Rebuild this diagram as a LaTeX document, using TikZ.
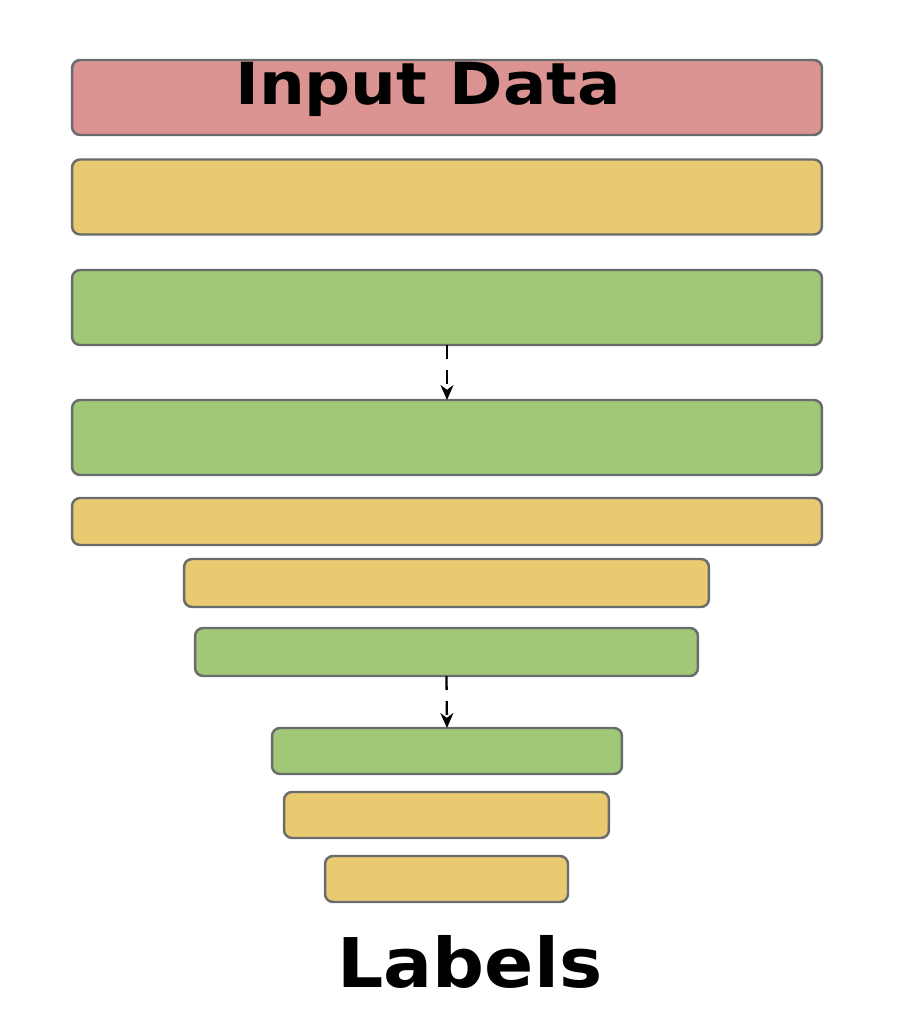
\documentclass[tikz,border=0pt]{standalone}
\usepackage{fontspec}
\usepackage{graphicx}
\setmainfont{DejaVu Sans}
\usetikzlibrary{arrows.meta}

\definecolor{boxred}{RGB}{219,148,145}
\definecolor{boxyellow}{RGB}{233,202,113}
\definecolor{boxgreen}{RGB}{161,200,118}
\definecolor{boxedge}{RGB}{105,108,108}

\tikzset{
    layer/.style={draw=boxedge, line width=1.4pt, rounded corners=0.16cm,
        inner sep=0pt, outer sep=0pt},
    flow/.style={dashed, dash pattern=on 0.28cm off 0.22cm, line width=1.3pt,
        -{Stealth[length=0.3cm, width=0.26cm]}}
}

\begin{document}
\begin{tikzpicture}[x=0.02cm, y=-0.02cm]
    \useasboundingbox (0,0) rectangle (910,1024);

    % Широкие слои
    \node[layer, fill=boxred, minimum width=15cm, minimum height=1.5cm] (in) at (447,97.5) {};
    \node[layer, fill=boxyellow, minimum width=15cm, minimum height=1.5cm] (y1) at (447,197) {};
    \node[layer, fill=boxgreen, minimum width=15cm, minimum height=1.5cm] (g1) at (447,307.5) {};
    \node[layer, fill=boxgreen, minimum width=15cm, minimum height=1.5cm] (g2) at (447,437.5) {};
    \node[layer, fill=boxyellow, minimum width=15cm, minimum height=0.94cm] (y2) at (447,521.5) {};

    % Сужающиеся слои
    \node[layer, fill=boxyellow, minimum width=10.5cm, minimum height=0.96cm] (y3) at (446.5,583) {};
    \node[layer, fill=boxgreen, minimum width=10.06cm, minimum height=0.96cm] (g3) at (446.5,652) {};
    \node[layer, fill=boxgreen, minimum width=7cm, minimum height=0.92cm] (g4) at (447,751) {};
    \node[layer, fill=boxyellow, minimum width=6.5cm, minimum height=0.92cm] (y4) at (446.5,815) {};
    \node[layer, fill=boxyellow, minimum width=4.86cm, minimum height=0.92cm] (y5) at (446.5,879) {};

    % Стрелки
    \draw[flow] (g1.south) -- (g2.north);
    \draw[flow] (g3.south) -- (g4.north);

    % Подписи
    \node[anchor=base, inner sep=0pt, font=\bfseries\fontsize{33}{38}\selectfont] (intext) at (428,105) {\scalebox{1.11}[1]{Input Data}};
    \node[anchor=base, inner sep=0pt, font=\bfseries\fontsize{39}{45}\selectfont] (labels) at (470,987) {\scalebox{1.06}[1]{Labels}};

\end{tikzpicture}
\end{document}
